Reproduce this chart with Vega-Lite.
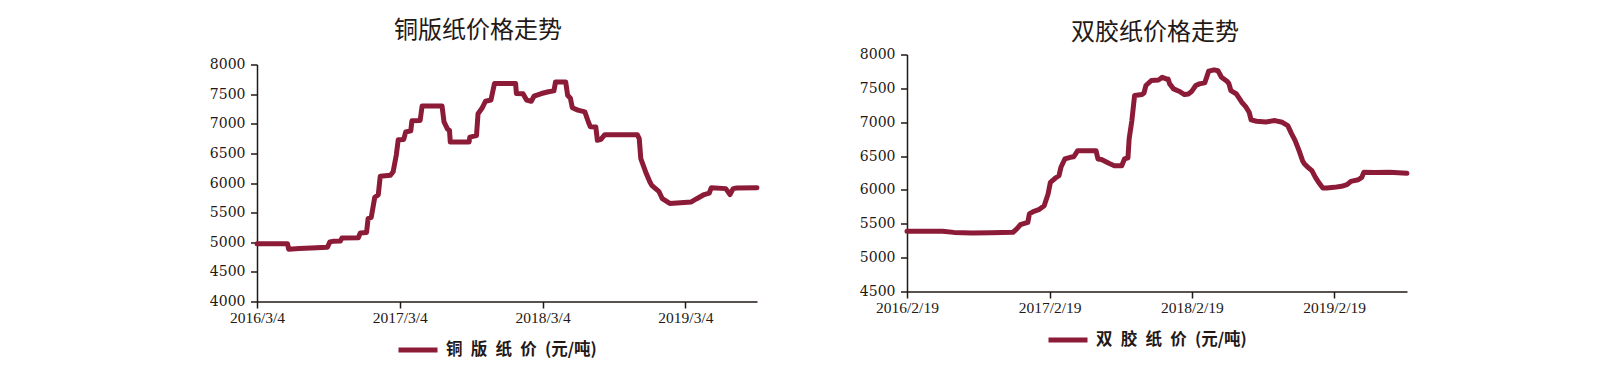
{
  "$schema": "https://vega.github.io/schema/vega-lite/v6.json",
  "padding": {"left": 209, "top": 18.5, "right": 0, "bottom": 0},
  "autosize": {"type": "pad"},
  "spacing": 99,
  "background": "white",
  "datasets": {
    "coated": [
      {"date": "2016-03-04", "price": 4975}, {"date": "2016-05-21", "price": 4975}, {"date": "2016-05-24", "price": 4880},
      {"date": "2016-06-20", "price": 4895}, {"date": "2016-07-20", "price": 4905}, {"date": "2016-08-31", "price": 4915},
      {"date": "2016-09-06", "price": 5005}, {"date": "2016-09-14", "price": 5015}, {"date": "2016-10-03", "price": 5020},
      {"date": "2016-10-07", "price": 5070}, {"date": "2016-11-18", "price": 5075}, {"date": "2016-11-23", "price": 5155},
      {"date": "2016-12-09", "price": 5165}, {"date": "2016-12-13", "price": 5400}, {"date": "2016-12-21", "price": 5420},
      {"date": "2016-12-30", "price": 5760}, {"date": "2017-01-08", "price": 5800}, {"date": "2017-01-13", "price": 6115},
      {"date": "2017-02-08", "price": 6130}, {"date": "2017-02-15", "price": 6190}, {"date": "2017-02-23", "price": 6470},
      {"date": "2017-02-28", "price": 6730}, {"date": "2017-03-14", "price": 6735}, {"date": "2017-03-19", "price": 6860},
      {"date": "2017-04-01", "price": 6880}, {"date": "2017-04-04", "price": 7050}, {"date": "2017-04-25", "price": 7055},
      {"date": "2017-04-30", "price": 7300}, {"date": "2017-06-20", "price": 7300}, {"date": "2017-06-25", "price": 7030},
      {"date": "2017-07-04", "price": 6910}, {"date": "2017-07-09", "price": 6890}, {"date": "2017-07-11", "price": 6690},
      {"date": "2017-08-28", "price": 6690}, {"date": "2017-08-30", "price": 6775}, {"date": "2017-09-16", "price": 6800},
      {"date": "2017-09-20", "price": 7170}, {"date": "2017-09-30", "price": 7260}, {"date": "2017-10-09", "price": 7380},
      {"date": "2017-10-23", "price": 7400}, {"date": "2017-11-01", "price": 7680}, {"date": "2017-12-25", "price": 7680},
      {"date": "2017-12-27", "price": 7510}, {"date": "2018-01-13", "price": 7505}, {"date": "2018-01-22", "price": 7400},
      {"date": "2018-02-03", "price": 7380}, {"date": "2018-02-10", "price": 7465}, {"date": "2018-03-01", "price": 7510},
      {"date": "2018-03-19", "price": 7540}, {"date": "2018-04-02", "price": 7555}, {"date": "2018-04-06", "price": 7705},
      {"date": "2018-05-02", "price": 7705}, {"date": "2018-05-07", "price": 7480}, {"date": "2018-05-14", "price": 7430},
      {"date": "2018-05-19", "price": 7270}, {"date": "2018-06-02", "price": 7230}, {"date": "2018-06-20", "price": 7200},
      {"date": "2018-06-29", "price": 7030}, {"date": "2018-07-04", "price": 6950}, {"date": "2018-07-18", "price": 6945},
      {"date": "2018-07-22", "price": 6720}, {"date": "2018-07-31", "price": 6735}, {"date": "2018-08-10", "price": 6815},
      {"date": "2018-11-01", "price": 6815}, {"date": "2018-11-06", "price": 6750}, {"date": "2018-11-10", "price": 6410},
      {"date": "2018-11-24", "price": 6160}, {"date": "2018-12-03", "price": 6020}, {"date": "2018-12-08", "price": 5960},
      {"date": "2018-12-26", "price": 5860}, {"date": "2019-01-04", "price": 5735}, {"date": "2019-01-23", "price": 5655},
      {"date": "2019-03-19", "price": 5680}, {"date": "2019-04-02", "price": 5735}, {"date": "2019-04-21", "price": 5805},
      {"date": "2019-05-04", "price": 5830}, {"date": "2019-05-09", "price": 5920}, {"date": "2019-06-15", "price": 5905},
      {"date": "2019-06-26", "price": 5805}, {"date": "2019-07-04", "price": 5905}, {"date": "2019-07-13", "price": 5915},
      {"date": "2019-09-03", "price": 5920}
    ],
    "offset": [
      {"date": "2016-02-19", "price": 5390}, {"date": "2016-05-20", "price": 5390}, {"date": "2016-06-18", "price": 5373},
      {"date": "2016-08-04", "price": 5365}, {"date": "2016-09-21", "price": 5368}, {"date": "2016-11-17", "price": 5375},
      {"date": "2016-11-26", "price": 5420}, {"date": "2016-12-06", "price": 5486}, {"date": "2016-12-25", "price": 5520},
      {"date": "2016-12-29", "price": 5645}, {"date": "2017-01-08", "price": 5680}, {"date": "2017-01-22", "price": 5708},
      {"date": "2017-02-05", "price": 5767}, {"date": "2017-02-15", "price": 5940}, {"date": "2017-02-21", "price": 6112},
      {"date": "2017-03-06", "price": 6176}, {"date": "2017-03-15", "price": 6211}, {"date": "2017-03-20", "price": 6334},
      {"date": "2017-03-30", "price": 6457}, {"date": "2017-04-13", "price": 6482}, {"date": "2017-04-22", "price": 6490},
      {"date": "2017-05-02", "price": 6580}, {"date": "2017-06-18", "price": 6580}, {"date": "2017-06-23", "price": 6457},
      {"date": "2017-07-02", "price": 6450}, {"date": "2017-07-21", "price": 6393}, {"date": "2017-08-04", "price": 6358},
      {"date": "2017-08-23", "price": 6358}, {"date": "2017-08-30", "price": 6457}, {"date": "2017-09-08", "price": 6475},
      {"date": "2017-09-11", "price": 6753}, {"date": "2017-09-18", "price": 7024}, {"date": "2017-09-25", "price": 7394},
      {"date": "2017-10-14", "price": 7409}, {"date": "2017-10-19", "price": 7430}, {"date": "2017-10-24", "price": 7542},
      {"date": "2017-11-07", "price": 7616}, {"date": "2017-11-26", "price": 7625}, {"date": "2017-12-05", "price": 7665},
      {"date": "2017-12-15", "price": 7640}, {"date": "2017-12-20", "price": 7640}, {"date": "2017-12-24", "price": 7566},
      {"date": "2018-01-03", "price": 7492}, {"date": "2018-01-17", "price": 7458}, {"date": "2018-01-31", "price": 7409},
      {"date": "2018-02-10", "price": 7418}, {"date": "2018-02-19", "price": 7458}, {"date": "2018-03-01", "price": 7542},
      {"date": "2018-03-10", "price": 7566}, {"date": "2018-03-24", "price": 7581}, {"date": "2018-03-29", "price": 7665},
      {"date": "2018-04-03", "price": 7754}, {"date": "2018-04-17", "price": 7773}, {"date": "2018-04-27", "price": 7760},
      {"date": "2018-05-06", "price": 7665}, {"date": "2018-05-20", "price": 7606}, {"date": "2018-05-25", "price": 7570},
      {"date": "2018-05-30", "price": 7468}, {"date": "2018-06-13", "price": 7418}, {"date": "2018-06-27", "price": 7295},
      {"date": "2018-07-07", "price": 7231}, {"date": "2018-07-16", "price": 7147}, {"date": "2018-07-21", "price": 7034},
      {"date": "2018-08-04", "price": 7014}, {"date": "2018-08-28", "price": 7004}, {"date": "2018-09-20", "price": 7024},
      {"date": "2018-10-09", "price": 6999}, {"date": "2018-10-23", "price": 6950}, {"date": "2018-11-02", "price": 6827},
      {"date": "2018-11-11", "price": 6728}, {"date": "2018-11-21", "price": 6580}, {"date": "2018-11-30", "price": 6432},
      {"date": "2018-12-05", "price": 6383}, {"date": "2018-12-14", "price": 6334}, {"date": "2018-12-24", "price": 6285},
      {"date": "2019-01-02", "price": 6186}, {"date": "2019-01-12", "price": 6097}, {"date": "2019-01-21", "price": 6028},
      {"date": "2019-01-31", "price": 6028}, {"date": "2019-02-19", "price": 6038}, {"date": "2019-03-10", "price": 6053},
      {"date": "2019-03-24", "price": 6077}, {"date": "2019-04-03", "price": 6127}, {"date": "2019-04-22", "price": 6151},
      {"date": "2019-05-01", "price": 6186}, {"date": "2019-05-06", "price": 6260}, {"date": "2019-06-03", "price": 6258},
      {"date": "2019-07-11", "price": 6260}, {"date": "2019-08-25", "price": 6245}
    ]
  },
  "hconcat": [
    {
      "width": 500,
      "height": 237,
      "title": {"text": "铜版纸价格走势", "offset": 14.5, "dx": -29},
      "data": {"name": "coated"},
      "mark": {"type": "line", "strokeWidth": 5, "strokeJoin": "round", "strokeCap": "round"},
      "encoding": {
        "x": {
          "field": "date", "type": "temporal",
          "scale": {"type": "utc", "domain": [{"year": 2016, "month": 3, "date": 4, "utc": true}, {"year": 2019, "month": 9, "date": 3, "utc": true}]},
          "axis": {
            "values": [
              {"year": 2016, "month": 3, "date": 4, "utc": true},
              {"year": 2017, "month": 3, "date": 4, "utc": true},
              {"year": 2018, "month": 3, "date": 4, "utc": true},
              {"year": 2019, "month": 3, "date": 4, "utc": true}
            ],
            "format": "%Y/%-m/%-d"
          }
        },
        "y": {
          "field": "price", "type": "quantitative",
          "scale": {"domain": [4000, 8000], "nice": false, "zero": false},
          "axis": {"values": [4000, 4500, 5000, 5500, 6000, 6500, 7000, 7500, 8000], "format": "d"}
        },
        "color": {
          "datum": "铜版纸价(元/吨)",
          "scale": {"range": ["#8C1B38"]},
          "legend": {"labelExpr": "'铜\u2002版\u2002纸\u2002价\u2002(元/吨)'", "legendX": 139, "legendY": 263.5}
        }
      }
    },
    {
      "width": 500,
      "height": 237,
      "title": {"text": "双胶纸价格走势", "offset": 2.5, "dx": -2},
      "data": {"name": "offset"},
      "mark": {"type": "line", "strokeWidth": 5, "strokeJoin": "round", "strokeCap": "round"},
      "encoding": {
        "x": {
          "field": "date", "type": "temporal",
          "scale": {"type": "utc", "domain": [{"year": 2016, "month": 2, "date": 19, "utc": true}, {"year": 2019, "month": 8, "date": 25, "utc": true}]},
          "axis": {
            "offset": -10,
            "values": [
              {"year": 2016, "month": 2, "date": 19, "utc": true},
              {"year": 2017, "month": 2, "date": 19, "utc": true},
              {"year": 2018, "month": 2, "date": 19, "utc": true},
              {"year": 2019, "month": 2, "date": 19, "utc": true}
            ],
            "format": "%Y/%-m/%-d"
          }
        },
        "y": {
          "field": "price", "type": "quantitative",
          "scale": {"domain": [4500, 8000], "nice": false, "zero": false, "range": [227, -10]},
          "axis": {"values": [4500, 5000, 5500, 6000, 6500, 7000, 7500, 8000], "format": "d"}
        },
        "color": {
          "datum": "双胶纸价(元/吨)",
          "scale": {"range": ["#8C1B38"]},
          "legend": {"labelExpr": "'双\u2002胶\u2002纸\u2002价\u2002(元/吨)'", "legendX": 139, "legendY": 253.5}
        }
      }
    }
  ],
  "resolve": {"scale": {"color": "independent", "x": "independent", "y": "independent"}, "legend": {"color": "independent"}},
  "config": {
    "view": {"stroke": null},
    "title": {"font": "Noto Sans CJK SC", "fontSize": 24, "fontWeight": "normal", "color": "#231815", "anchor": "middle", "frame": "group"},
    "axis": {
      "title": null,
      "grid": false,
      "domainColor": "#231815",
      "domainWidth": 1.5,
      "tickColor": "#231815",
      "tickWidth": 1.5,
      "tickSize": 6.5,
      "labelColor": "#231815"
    },
    "axisX": {"labelFont": "Liberation Serif", "labelFontSize": 15.5, "labelPadding": 2, "labelFlush": false, "labelOverlap": false},
    "axisY": {"labelFont": "DejaVu Serif", "labelFontSize": 14, "labelPadding": 5.5},
    "legend": {
      "orient": "none",
      "title": null,
      "padding": 0,
      "symbolType": "stroke",
      "symbolSize": 1521,
      "symbolStrokeWidth": 5,
      "labelFont": "Noto Sans CJK SC",
      "labelFontSize": 16.5,
      "labelFontWeight": "bold",
      "labelColor": "#231815",
      "labelOffset": 6,
      "labelLimit": 400
    }
  }
}
